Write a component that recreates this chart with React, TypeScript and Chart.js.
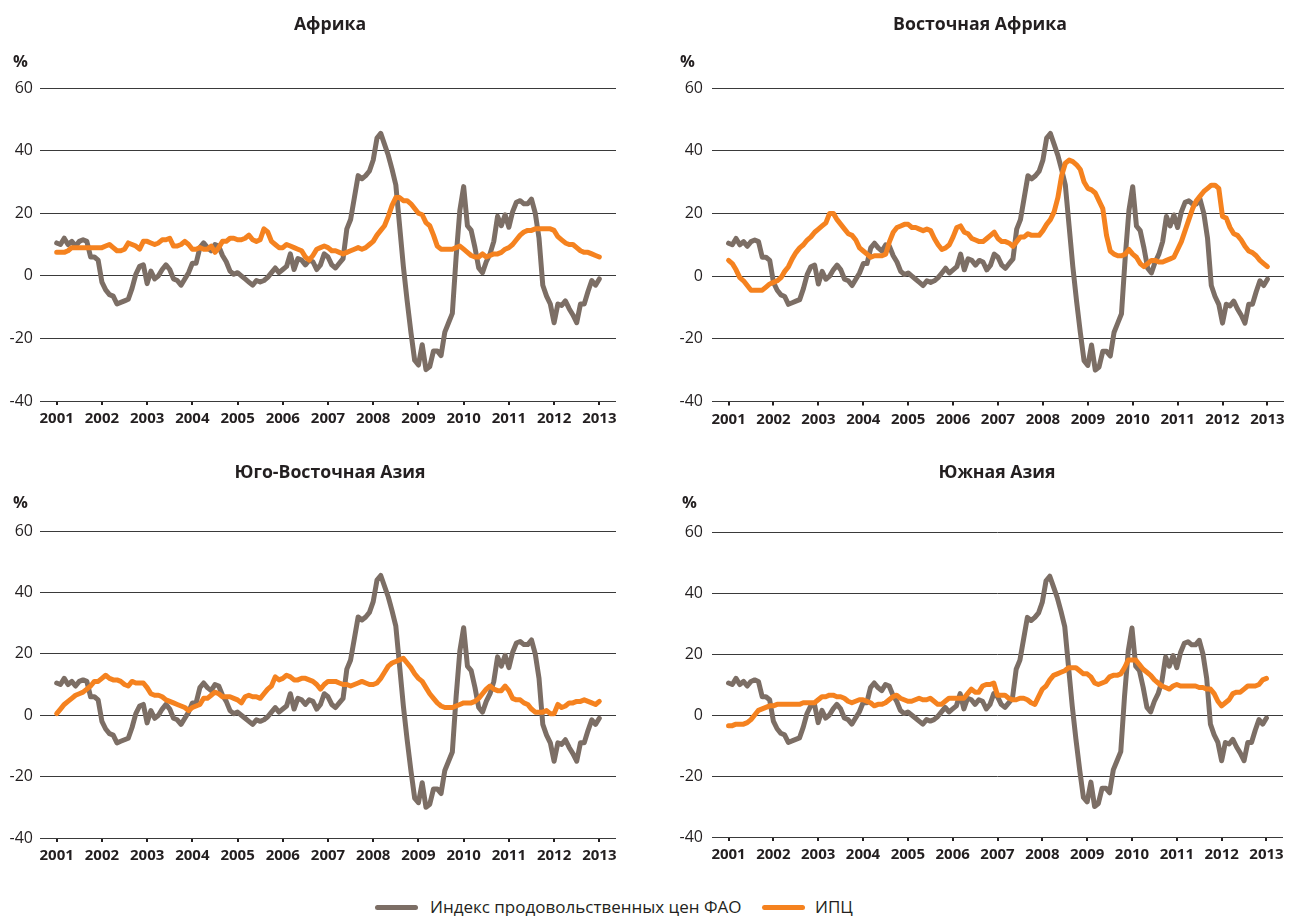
import React, { useEffect, useRef } from 'react';
import { Chart, registerables } from 'chart.js';

Chart.register(...registerables);

// ---------- data (monthly, Jan 2001 .. Jan 2013) ----------
const years = ['2001', '2002', '2003', '2004', '2005', '2006', '2007', '2008', '2009', '2010', '2011', '2012', '2013'];
const yTicks = [-40, -20, 0, 20, 40, 60];

const seriesNames = ['Индекс продовольственных цен ФАО', 'ИПЦ'];
const panelTitles = ['Африка', 'Восточная Африка', 'Юго-Восточная Азия', 'Южная Азия'];

const fao = [
  10.5, 10, 12, 10, 11, 9.5, 11, 11.5, 11, 6, 6, 5,
  -2, -4.5, -6, -6.5, -9, -8.5, -8, -7.5, -4, 0.5, 3, 3.5,
  -2.5, 1.5, -1, 0, 2, 3.5, 2, -1, -1.5, -3, -1, 1,
  4, 4, 9, 10.5, 9, 8, 10, 9.5, 6.5, 4.5, 1.5, 0.5,
  1, 0, -1, -2, -3, -1.5, -2, -1.5, -0.5, 1, 2.5, 1,
  2, 3, 7, 2, 5.5, 5, 3.5, 5, 4.5, 2, 3.5, 7,
  6, 3.5, 2.5, 4, 5.5, 15, 18, 25, 32, 31, 32, 33.5,
  37, 44, 45.5, 42, 38.5, 34, 29, 16, 3, -8, -18, -27,
  -28.5, -22, -30, -29, -24, -24, -25.5, -18, -15, -12, 6, 21,
  28.5, 16, 14.5, 9, 2.5, 1, 4.5, 7, 11, 19, 16, 19.5,
  15.5, 20.5, 23.5, 24, 23, 23, 24.5, 20, 12, -3, -6.5, -9,
  -15, -9, -9.5, -8, -10.5, -12.5, -15, -9, -9, -5, -1.5, -3, -1,
];

const cpiAfrica = [
  7.5, 7.5, 7.5, 8, 9, 9, 9, 9, 9, 9, 9, 9,
  9, 9.5, 10, 9, 8, 8, 8.5, 10.5, 10, 9.5, 8.5, 11,
  11, 10.5, 10, 10.5, 11.5, 11.5, 12, 9.5, 9.5, 10, 11, 10,
  8.5, 8.5, 9, 8.5, 8.5, 9.5, 7.5, 9, 11, 11, 12, 12,
  11.5, 11.5, 12, 13, 11.5, 11, 11.5, 15, 14, 11, 10, 9,
  9, 10, 9.5, 9, 8.5, 8, 6, 5, 6.5, 8.5, 9, 9.5,
  9, 8, 8, 7.5, 7, 7.5, 8, 8.5, 9, 8.5, 9, 10,
  11, 13, 14.5, 16, 19, 22.5, 25, 25, 24, 24, 23, 21.5,
  20, 19.5, 17, 16, 13, 9.5, 8.5, 8.5, 8.5, 8.5, 9, 9.5,
  8.5, 7.5, 6.5, 6, 6, 7, 6, 6.5, 7, 7, 7.5, 8.5,
  9, 10, 11.5, 13, 14, 14.5, 14.5, 15, 15, 15, 15, 15,
  14.5, 12.5, 11.5, 10.5, 10, 10, 9, 8, 7.5, 7.5, 7, 6.5, 6,
];

const cpiEastAfrica = [
  5, 4, 2, -0.5, -1.5, -3, -4.5, -4.5, -4.5, -4.5, -3.5, -2.5,
  -2, -1.5, -0.5, 1.5, 3, 5.5, 7.5, 9, 10, 11.5, 12.5, 14,
  15, 16, 17, 20, 20, 18, 16.5, 15, 13.5, 13, 11.5, 9,
  8, 7, 6, 6.5, 6.5, 6.5, 7, 11, 14, 15.5, 16, 16.5,
  16.5, 15.5, 15.5, 15, 14.5, 15, 14.5, 12, 10, 8.5, 9, 10,
  12.5, 15.5, 16, 14, 13.5, 12, 11.5, 11, 11, 12, 13, 14,
  12, 11, 11, 10.5, 9.5, 11, 12.5, 12.5, 13.5, 13, 13, 13,
  14.5, 16.5, 18, 20.5, 25, 32, 36, 37, 36.5, 35.5, 34, 30,
  28, 27.5, 26.5, 24, 21.5, 13, 8, 7, 6.5, 6.5, 7, 8.5,
  7, 6, 4, 3, 4, 5, 5, 4.5, 4.5, 5, 5.5, 6,
  8.5, 11, 14.5, 18, 21.5, 24, 25.5, 27, 28, 29, 29, 28,
  19, 18.5, 15.5, 13.5, 13, 11.5, 9.5, 8, 7.5, 6.5, 5, 4, 3,
];

const cpiSEAsia = [
  0.5, 2, 3.5, 4.5, 5.5, 6.5, 7, 7.5, 8.5, 9.5, 11, 11,
  12, 13, 12, 11.5, 11.5, 11, 10, 9.5, 11, 10.5, 10.5, 10.5,
  9, 7, 6.5, 6.5, 6, 5, 4.5, 4, 3.5, 3, 2.5, 1.5,
  2.5, 3, 3.5, 5.5, 5.5, 6.5, 7.5, 7, 6, 6, 6, 5.5,
  5, 4, 6, 6.5, 6, 6, 5.5, 7, 8.5, 9.5, 12.5, 11.5,
  12, 13, 12.5, 11.5, 11.5, 12, 12, 11.5, 11, 10, 8.5, 10,
  11, 11, 11, 10.5, 10, 10, 9.5, 10, 10.5, 11, 10.5, 10,
  10, 10.5, 12, 14, 16, 17, 17.5, 18, 18.5, 17, 15.5, 13.5,
  12, 11, 9, 7, 5.5, 4, 3, 2.5, 2.5, 2.5, 3, 3.5,
  4, 4, 4, 4.5, 5.5, 7, 8.5, 9.5, 8.5, 8, 8, 9.5,
  8, 5.5, 5, 5, 4, 3.5, 2, 1, 1, 1, 1.5, 0.5,
  0.5, 3.5, 2.5, 3, 4, 4, 4.5, 4.5, 5, 4.5, 4, 3.5, 4.5,
];

const cpiSouthAsia = [
  -3.5, -3.5, -3, -3, -3, -2.5, -1.5, 0, 1.5, 2, 2.5, 3,
  3, 3.5, 3.5, 3.5, 3.5, 3.5, 3.5, 3.5, 4, 4, 4, 4,
  5, 6, 6, 6.5, 6.5, 6, 6, 5.5, 4.5, 4, 4.5, 5,
  5, 4.5, 4, 3, 3.5, 3.5, 4, 5, 6, 6.5, 5.5, 5,
  4.5, 4.5, 5, 5.5, 5, 5, 5.5, 4.5, 3.5, 3.5, 4.5, 5.5,
  5.5, 5.5, 5.5, 5.5, 7, 8.5, 7.5, 7.5, 9.5, 10, 10, 10.5,
  6.5, 6.5, 6.5, 5.5, 5, 5, 5.5, 5.5, 5, 4, 3.5, 6,
  8.5, 9.5, 11.5, 13, 13.5, 14, 14.5, 15.5, 15.5, 15.5, 14.5, 13.5,
  13.5, 12.5, 10.5, 10, 10.5, 11, 12.5, 13, 13, 13.5, 15.5, 18,
  18, 18, 16.5, 15, 14, 13, 11.5, 10.5, 9.5, 9, 8.5, 9.5,
  10, 9.5, 9.5, 9.5, 9.5, 9.5, 9, 9, 8.5, 8.5, 7, 4.5,
  3, 4, 5, 7, 7.5, 7.5, 8.5, 9.5, 9.5, 9.5, 10, 11.5, 12,
];

// ---------- styles ----------
const FONT = '"Open Sans", "Noto Sans", sans-serif';
const TEXT = '#231f20';
const GRID = '#3a3a3a';
const GRAY = '#7c6e65';
const ORANGE = '#f5821f';

type PanelProps = {
  title: string;
  cpi: number[];
  left: number;
  top: number;
  width: number;
  height: number;
  area: { l: number; r: number; t: number; b: number };
  titleX: number;
  titleY: number;
  pctX: number;
  pctY: number;
  labelGap: number;
};

function Panel(p: PanelProps) {
  const ref = useRef<HTMLCanvasElement>(null);
  useEffect(() => {
    if (!ref.current) return;
    const toPts = (arr: number[]) => arr.map((y, i) => ({ x: i, y }));
    const chart = new Chart(ref.current, {
      type: 'line',
      data: {
        datasets: [
          {
            label: seriesNames[0],
            data: toPts(fao),
            borderColor: GRAY,
            borderWidth: 5,
            pointRadius: 0,
            tension: 0,
            borderJoinStyle: 'round',
            borderCapStyle: 'round',
            order: 2,
          },
          {
            label: seriesNames[1],
            data: toPts(p.cpi),
            borderColor: ORANGE,
            borderWidth: 5,
            pointRadius: 0,
            tension: 0,
            borderJoinStyle: 'round',
            borderCapStyle: 'round',
            order: 1,
          },
        ],
      },
      options: {
        responsive: false,
        animation: false,
        events: [],
        layout: { padding: { left: 0, top: p.area.t, right: p.width - p.area.r, bottom: 0 } },
        plugins: { legend: { display: false }, tooltip: { enabled: false }, title: { display: false } },
        scales: {
          x: {
            type: 'linear',
            min: -4.43,
            max: 148.43,
            afterBuildTicks: (s: any) => {
              s.ticks = years.map((_, i) => ({ value: i * 12 }));
            },
            afterFit: (s: any) => {
              s.height = p.height - p.area.b;
            },
            ticks: {
              autoSkip: false,
              maxRotation: 0,
              padding: 5,
              color: TEXT,
              font: { family: FONT, size: 15, weight: 'bold' },
              callback: (v: any) => years[Math.round(Number(v) / 12)],
            },
            grid: { drawOnChartArea: false, drawTicks: true, tickLength: 4, color: TEXT, lineWidth: 2 },
            border: { display: false },
          },
          y: {
            min: -40,
            max: 60,
            afterBuildTicks: (s: any) => {
              s.ticks = yTicks.map((v) => ({ value: v }));
            },
            afterFit: (s: any) => {
              s.width = p.area.l;
            },
            ticks: {
              padding: p.labelGap,
              color: TEXT,
              font: { family: FONT, size: 16 },
              callback: (v: any) => String(v),
            },
            grid: { drawTicks: false, color: GRID, lineWidth: 1 },
            border: { display: false },
          },
        },
      },
      plugins: [
        {
          id: 'panelText',
          afterDraw(c: any) {
            const ctx = c.ctx;
            ctx.save();
            ctx.fillStyle = TEXT;
            ctx.font = `bold 17.7px ${FONT}`;
            ctx.textAlign = 'center';
            ctx.textBaseline = 'middle';
            ctx.fillText(p.title, p.titleX, p.titleY);
            ctx.font = `bold 16.5px ${FONT}`;
            ctx.textAlign = 'left';
            ctx.fillText('%', p.pctX, p.pctY);
            ctx.restore();
          },
        },
      ],
    } as any);
    return () => chart.destroy();
  }, []);
  return (
    <canvas
      ref={ref}
      width={p.width}
      height={p.height}
      style={{ position: 'absolute', left: p.left, top: p.top, width: p.width, height: p.height }}
    />
  );
}

const panels: PanelProps[] = [
  {
    title: panelTitles[0], cpi: cpiAfrica, left: 0, top: 0, width: 645, height: 440,
    area: { l: 40, r: 616, t: 88, b: 401 }, titleX: 330, titleY: 24.5, pctX: 13, pctY: 62, labelGap: 7,
  },
  {
    title: panelTitles[1], cpi: cpiEastAfrica, left: 645, top: 0, width: 645, height: 440,
    area: { l: 67, r: 639, t: 88, b: 401.5 }, titleX: 335, titleY: 24.5, pctX: 35, pctY: 62, labelGap: 9,
  },
  {
    title: panelTitles[2], cpi: cpiSEAsia, left: 0, top: 440, width: 645, height: 440,
    area: { l: 40, r: 616, t: 91, b: 398 }, titleX: 330, titleY: 33, pctX: 13, pctY: 63, labelGap: 7,
  },
  {
    title: panelTitles[3], cpi: cpiSouthAsia, left: 645, top: 440, width: 645, height: 440,
    area: { l: 67, r: 638, t: 92, b: 397 }, titleX: 352, titleY: 33, pctX: 37, pctY: 63, labelGap: 9,
  },
];

const legendText: React.CSSProperties = {
  position: 'absolute',
  top: 907,
  transform: 'translateY(-50%)',
  fontFamily: FONT,
  fontSize: 17,
  color: TEXT,
  whiteSpace: 'nowrap',
  lineHeight: '20px',
};

const legendLine = (color: string, left: number): React.CSSProperties => ({
  position: 'absolute',
  left,
  top: 904.5,
  width: 43,
  height: 5,
  borderRadius: 3,
  background: color,
});

export default function App() {
  return (
    <div style={{ position: 'absolute', left: 0, top: 0, width: 1290, height: 916, background: '#fff', overflow: 'hidden' }}>
      {panels.map((p, i) => (
        <Panel key={i} {...p} />
      ))}
      <div style={legendLine(GRAY, 375)} />
      <div style={{ ...legendText, left: 430 }}>{seriesNames[0]}</div>
      <div style={legendLine(ORANGE, 762)} />
      <div style={{ ...legendText, left: 815 }}>{seriesNames[1]}</div>
    </div>
  );
}
